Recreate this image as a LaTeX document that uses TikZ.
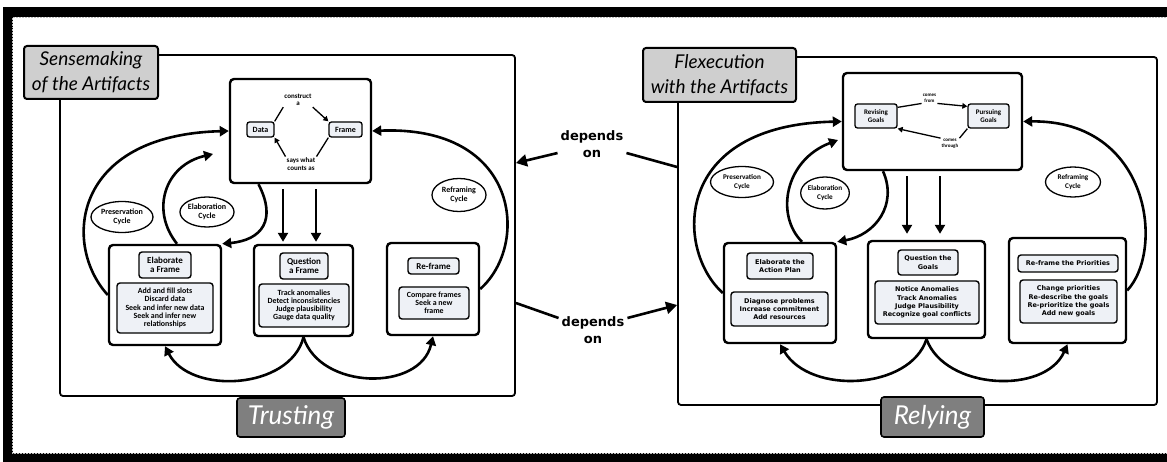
\documentclass[tikz,border=0pt]{standalone}
\usepackage{fontspec}
\setmainfont{Lato}
\newfontfamily\verdana{DejaVu Sans}
\newfontfamily\gill{Carlito}
\usetikzlibrary{arrows.meta,shapes.geometric}

\definecolor{headgray}{HTML}{CFCFCF}
\definecolor{badgegray}{HTML}{7F7F7F}
\definecolor{listfill}{HTML}{EEF1F6}

\tikzset{
  panel/.style={draw, line width=1.8pt, rounded corners=3pt, inner sep=0pt},
  heading/.style={draw, line width=2pt, rounded corners=3pt, fill=headgray, inner sep=0pt, align=center, font=\itshape\fontsize{19}{25}\selectfont},
  badge/.style={draw, line width=1.6pt, rounded corners=3pt, fill=badgegray, text=white, inner sep=0pt, font=\itshape\fontsize{26}{30}\selectfont},
  stagebox/.style={draw, line width=2.4pt, rounded corners=4pt, fill=white, inner sep=0pt},
  stagetitle/.style={draw, line width=1.4pt, rounded corners=3pt, fill=listfill, inner sep=0pt, align=center},
  keybox/.style={draw, line width=1.3pt, rounded corners=2.5pt, fill=listfill, inner sep=0pt, align=center, font=\gill\bfseries\fontsize{8}{9}\selectfont},
  ltext/.style={font=\gill\bfseries\fontsize{7.9}{8.2}\selectfont},
  ltitle/.style={font=\gill\bfseries\fontsize{9}{9.5}\selectfont},
  rtext/.style={font=\verdana\bfseries\fontsize{6.5}{8.3}\selectfont},
  tinytext/.style={inner sep=1pt, align=center, font=\gill\bfseries\fontsize{7}{7.5}\selectfont},
  cyclenode/.style={draw, ellipse, line width=1.3pt, inner sep=0pt, align=center, font=\gill\bfseries\fontsize{8}{9}\selectfont},
  dep/.style={inner sep=3pt, align=center, font=\verdana\bfseries\fontsize{13}{17}\selectfont},
  looparrow/.style={line width=2.6pt, -{Triangle[length=9pt,width=10pt]}},
  downarrow/.style={line width=2.6pt, -{Triangle[length=9pt,width=10pt]}, shorten <=5pt},
  deparrow/.style={line width=2.6pt, -{Triangle[length=11pt,width=12pt]}},
  depline/.style={line width=2.6pt},
  smallarrow/.style={line width=1.3pt, -{Triangle[length=5pt,width=5.5pt]}},
  thinline/.style={line width=1.3pt}
}

\begin{document}
\begin{tikzpicture}[x=1pt, y=-1pt]
    \useasboundingbox (0,0) rectangle (1167,462);
    % frame of the whole figure
    \draw[line width=10pt] (1180,12) -- (8,12) -- (8,458) -- (1180,458);
    \draw[gray!50, densely dotted, line width=0.5pt] (1167,17.5) -- (12.5,17.5) -- (12.5,453.5) -- (1167,453.5);

    % panels
    \node[panel, minimum width=455pt, minimum height=341pt] (lpanel) at (287.5,225.5) {};
    \node[panel, minimum width=479pt, minimum height=348pt] (rpanel) at (917.5,231) {};
    \node[heading, minimum width=134pt, minimum height=53pt] (lhead) at (91,72.5) {Sensemaking\\of the Artifacts};
    \node[heading, minimum width=153pt, minimum height=54pt] (rhead) at (719.5,75) {Flexecution\\with the Artifacts};
    \node[badge, minimum width=108pt, minimum height=39pt] (trust) at (291,417.5) {Trusting};
    \node[badge, minimum width=103pt, minimum height=40pt] (rely) at (932.5,417) {Relying};

    %%% sensemaking
    \node[stagebox, minimum width=141pt, minimum height=104pt] (lmain) at (300.5,131) {};
    \node[keybox, minimum width=27pt, minimum height=15pt] (ldata) at (260.5,129.5) {Data};
    \node[keybox, minimum width=33pt, minimum height=15pt] (lframe) at (345.5,129.5) {Frame};
    \node[tinytext] (lcons) at (298,100) {construct\\a};
    \node[tinytext] (lsays) at (301,164) {says what\\counts as};
    \draw[thinline] (ldata.north east) -- (lcons.south west);
    \draw[smallarrow] (lcons.south east) -- (lframe.north west);
    \draw[thinline] (lframe.south west) -- (lsays.north east);
    \draw[smallarrow] (lsays.north west) -- (ldata.south east);

    \node[stagebox, minimum width=112pt, minimum height=100pt] (lelab) at (165,295) {};
    \node[stagetitle, ltitle, minimum width=52pt, minimum height=26pt] (lelabt) at (165,265) {Elaborate\\a Frame};
    \node[stagetitle, ltext, minimum width=96pt, minimum height=50pt] (lelabl) at (165,308) {Add and fill slots\\Discard data\\Seek and infer new data\\Seek and infer new\\relationships};

    \node[stagebox, minimum width=99pt, minimum height=91pt] (lquest) at (303.5,290.5) {};
    \node[stagetitle, ltitle, minimum width=48pt, minimum height=26pt] (lquestt) at (304,266) {Question\\a Frame};
    \node[stagetitle, ltext, minimum width=90pt, minimum height=43pt] (lquestl) at (304,305.5) {Track anomalies\\Detect inconsistencies\\Judge plausibility\\Gauge data quality};

    \node[stagebox, minimum width=92pt, minimum height=92pt] (lref) at (433,289) {};
    \node[stagetitle, ltitle, minimum width=51pt, minimum height=16pt] (lreft) at (433.5,266) {Re-frame};
    \node[stagetitle, ltext, minimum width=70pt, minimum height=32pt] (lrefl) at (434,303) {Compare frames\\Seek a new\\frame};

    \node[cyclenode, minimum width=62pt, minimum height=31pt] (lpres) at (122,217) {Preservation\\Cycle};
    \node[cyclenode, minimum width=49pt, minimum height=30pt] (lelc) at (207,212) {Elaboration\\Cycle};
    \node[cyclenode, minimum width=54pt, minimum height=33pt] (lrefc) at (459,195) {Reframing\\Cycle};

    \coordinate (lelabend) at (213,154);
    \draw[looparrow] (lelab.west) .. controls (62,245) and (72,135) .. (lmain.west);
    \draw[looparrow] ([xshift=12pt]lelab.north) .. controls (150,210) and (165,165) .. (lelabend);
    \draw[looparrow] ([xshift=-42pt]lmain.south) .. controls (277,220) and (262,240) .. (lelab.north east);
    \draw[looparrow] (lref.east) .. controls (530,245) and (520,125) .. (lmain.east);
    \draw[looparrow] (lquest.south) .. controls (290,390) and (190,395) .. (lelab.south);
    \draw[looparrow] (lquest.south) .. controls (320,390) and (420,392) .. (lref.south);
    \draw[downarrow, shorten >=2pt] ([xshift=-17.5pt]lmain.south) -- ([xshift=-17.5pt]lmain.south |- lquest.north);
    \draw[downarrow, shorten >=2pt] ([xshift=15.5pt]lmain.south) -- ([xshift=15.5pt]lmain.south |- lquest.north);

    %%% flexecution
    \node[stagebox, minimum width=179pt, minimum height=97pt] (rmain) at (932.5,121.5) {};
    \node[keybox, font=\gill\bfseries\fontsize{7}{7.5}\selectfont, minimum width=42pt, minimum height=24pt] (rrev) at (876,116) {Revising\\Goals};
    \node[keybox, font=\gill\bfseries\fontsize{7}{7.5}\selectfont, minimum width=41pt, minimum height=24pt] (rpur) at (988.5,116) {Pursuing\\Goals};
    \node[tinytext, font=\gill\bfseries\fontsize{5}{6}\selectfont] (rfrom) at (929.5,98) {comes\\from};
    \node[tinytext, font=\gill\bfseries\fontsize{5}{6}\selectfont] (rthru) at (950,144) {comes\\through};
    \draw[thinline] ([yshift=-4pt]rrev.north east) -- (rfrom.south west);
    \draw[smallarrow] (rfrom.south east) -- ([yshift=-3pt]rpur.north west);
    \draw[thinline] (rpur.south west) -- (rthru.north east);
    \draw[smallarrow] (rthru.north west) -- (rrev.south east);

    \node[stagebox, minimum width=112pt, minimum height=100pt] (relab) at (780,293) {};
    \node[stagetitle, rtext, minimum width=66pt, minimum height=26pt] (relabt) at (780,266) {Elaborate the\\Action Plan};
    \node[stagetitle, rtext, minimum width=97pt, minimum height=34pt] (relabl) at (779.5,309) {Diagnose problems\\Increase commitment\\Add resources};

    \node[stagebox, minimum width=117pt, minimum height=97pt] (rquest) at (926.5,289.5) {};
    \node[stagetitle, rtext, minimum width=60pt, minimum height=25pt] (rquestt) at (928,262.5) {Question the\\Goals};
    \node[stagetitle, rtext, minimum width=104pt, minimum height=43pt] (rquestl) at (927,302.5) {Notice Anomalies\\Track Anomalies\\Judge Plausibility\\Recognize goal conflicts};

    \node[stagebox, minimum width=117pt, minimum height=105pt] (rref) at (1067.5,290.5) {};
    \node[stagetitle, rtext, minimum width=100pt, minimum height=17pt] (rreft) at (1068,263.5) {Re-frame the Priorities};
    \node[stagetitle, rtext, minimum width=97pt, minimum height=43pt] (rrefl) at (1068.5,301.5) {Change priorities\\Re-describe the goals\\Re-prioritize the goals\\Add new goals};

    \node[cyclenode, font=\gill\bfseries\fontsize{7.2}{8.5}\selectfont, minimum width=63pt, minimum height=31pt] (rpres) at (742,182) {Preservation\\Cycle};
    \node[cyclenode, font=\gill\bfseries\fontsize{7.2}{8.5}\selectfont, minimum width=40pt, minimum height=32pt] (relc) at (825,193) {Elaboration\\Cycle};
    \node[cyclenode, font=\gill\bfseries\fontsize{7.2}{8.5}\selectfont, minimum width=55pt, minimum height=30pt] (rrefc) at (1073,182) {Reframing\\Cycle};

    \coordinate (relabend) at (838,140);
    \draw[looparrow] (relab.west) .. controls (675,250) and (672,125) .. (rmain.west);
    \draw[looparrow] ([xshift=22pt]relab.north) .. controls (775,215) and (785,160) .. (relabend);
    \draw[looparrow] ([xshift=-49.5pt]rmain.south) .. controls (898,205) and (875,235) .. (relab.north east);
    \draw[looparrow] (rref.east) .. controls (1165,250) and (1150,120) .. (rmain.east);
    \draw[looparrow] (rquest.south) .. controls (910,390) and (810,395) .. (relab.south);
    \draw[looparrow] (rquest.south) .. controls (945,390) and (1045,395) .. (rref.south);
    \draw[downarrow, shorten >=6pt] ([xshift=-25.5pt]rmain.south) -- ([xshift=-25.5pt]rmain.south |- rquest.north);
    \draw[downarrow, shorten >=6pt] ([xshift=7.5pt]rmain.south) -- ([xshift=7.5pt]rmain.south |- rquest.north);

    % depends on
    \node[dep] (dep1) at (592,144) {depends\\on};
    \node[dep] (dep2) at (593,330) {depends\\on};
    \draw[deparrow] ([yshift=-9pt]dep1.west) -- ([yshift=62.5pt]lpanel.east);
    \draw[depline] ([yshift=-9pt]dep1.east) -- ([yshift=64pt]rpanel.west);
    \draw[depline] ([yshift=-77.5pt]lpanel.east) -- ([yshift=12pt]dep2.west);
    \draw[deparrow] ([yshift=12pt]dep2.east) -- ([yshift=-74pt]rpanel.west);
\end{tikzpicture}
\end{document}
